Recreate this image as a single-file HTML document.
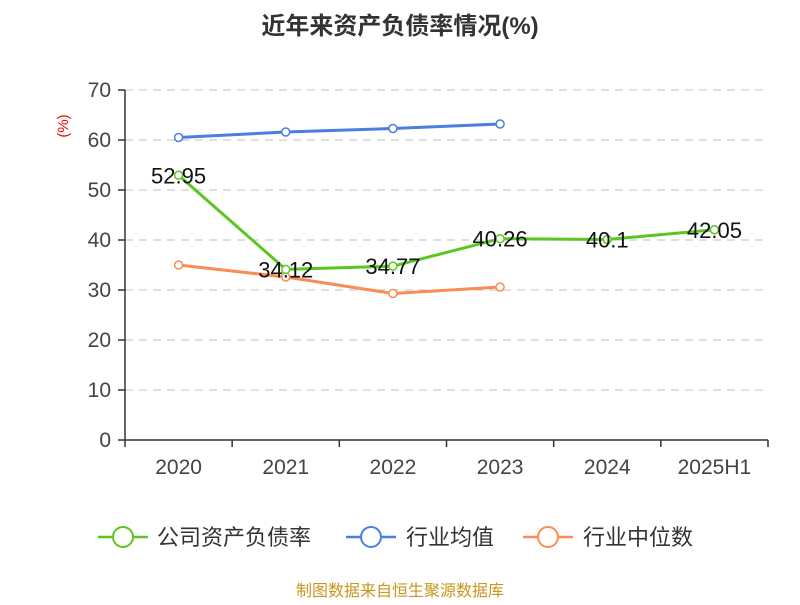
<!DOCTYPE html>
<html><head><meta charset="utf-8"><style>
body{margin:0;background:#fff;}
svg text{font-family:"Liberation Sans","Noto Sans CJK SC",sans-serif;}
</style></head><body>
<svg id="chart" width="800" height="600" xmlns="http://www.w3.org/2000/svg">
<text x="400" y="34" text-anchor="middle" font-size="24" font-weight="bold" fill="#333">近年来资产负债率情况(%)</text>
<text x="68" y="126" text-anchor="middle" font-size="15" fill="#e00" transform="rotate(-90 68 126)">(%)</text>
<g id="grid"></g><g id="axes"></g><g id="series"></g>
<g>
<g><line x1="98" y1="537" x2="148" y2="537" stroke="#5bc623" stroke-width="2.5"/><circle cx="123" cy="537" r="10" fill="#fff" stroke="#5bc623" stroke-width="2"/><text x="157" y="545" font-size="22" fill="#333">公司资产负债率</text></g>
<g><line x1="346" y1="537" x2="396" y2="537" stroke="#4a7ee0" stroke-width="2.5"/><circle cx="371" cy="537" r="10" fill="#fff" stroke="#4a7ee0" stroke-width="2"/><text x="406" y="545" font-size="22" fill="#333">行业均值</text></g>
<g><line x1="523" y1="537" x2="573" y2="537" stroke="#fb8c55" stroke-width="2.5"/><circle cx="548" cy="537" r="10" fill="#fff" stroke="#fb8c55" stroke-width="2"/><text x="583" y="545" font-size="22" fill="#333">行业中位数</text></g>
</g>
<text x="400" y="596" text-anchor="middle" font-size="16" fill="#c8961e">制图数据来自恒生聚源数据库</text>
</svg>
<script>
const categories=["2020","2021","2022","2023","2024","2025H1"];
const companyValues=[52.95,34.12,34.77,40.26,40.1,42.05];
const companyLabels=["52.95","34.12","34.77","40.26","40.1","42.05"];
const avgValues=[60.5,61.6,62.3,63.2];
const medianValues=[35.0,32.6,29.3,30.6];
const yTicks=[0,10,20,30,40,50,60,70];
const NS="http://www.w3.org/2000/svg";
const x0=125,x1=768,yBase=440,yTop=90,yMax=70;
const bw=(x1-x0)/categories.length;
const xs=i=>x0+bw*(i+0.5);
const ys=v=>yBase-(v/yMax)*(yBase-yTop);
function mk(t,a,p){const e=document.createElementNS(NS,t);for(const k in a)e.setAttribute(k,a[k]);p.appendChild(e);return e;}
const grid=document.getElementById('grid'),axes=document.getElementById('axes'),ser=document.getElementById('series');
yTicks.forEach(v=>{
 if(v>0){const g=mk('line',{x1:x0,x2:x1,y1:ys(v),y2:ys(v),stroke:'#ccc','stroke-dasharray':'8,6','stroke-width':1.3},grid);
 
 }
 const tk=mk('line',{x1:x0-7,x2:x0,y1:ys(v),y2:ys(v),stroke:'#333','stroke-width':1.5},axes);
 
 
 const t=mk('text',{x:x0-14,y:ys(v)+7,'text-anchor':'end','font-size':21,fill:'#444'},axes);t.textContent=v;
 
 
});
const ya=mk('line',{x1:x0,x2:x0,y1:yTop,y2:yBase,stroke:'#333','stroke-width':1.5},axes);


const xa=mk('line',{x1:x0,x2:x1,y1:yBase,y2:yBase,stroke:'#333','stroke-width':1.5},axes);


for(let i=0;i<=categories.length;i++){const tk=mk('line',{x1:x0+bw*i,x2:x0+bw*i,y1:yBase,y2:yBase+7,stroke:'#333','stroke-width':1.5},axes);
 
 }
categories.forEach((c,i)=>{const t=mk('text',{x:xs(i),y:474,'text-anchor':'middle','font-size':21,fill:'#444'},axes);t.textContent=c;
 
 });
function line(vals,color,name){
 const pts=vals.map((v,i)=>xs(i)+','+ys(v)).join(' ');
 const p=mk('polyline',{points:pts,fill:'none',stroke:color,'stroke-width':3},ser);
 
 
 vals.forEach((v,i)=>{const c=mk('circle',{cx:xs(i),cy:ys(v),r:4,fill:'#fff',stroke:color,'stroke-width':1.5},ser);
  
  });
}
line(avgValues,'#4a7ee0','industry-avg');
line(medianValues,'#fb8c55','industry-median');
line(companyValues,'#5bc623','company');
companyValues.forEach((v,i)=>{const t=mk('text',{x:xs(i),y:ys(v)+8,'text-anchor':'middle','font-size':22,fill:'#111'},ser);t.textContent=companyLabels[i];
 
 });
</script>
</body></html>
